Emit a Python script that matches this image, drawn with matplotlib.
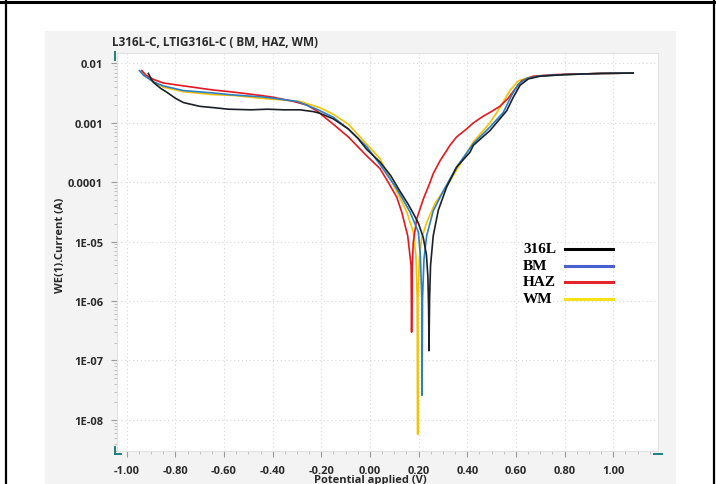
import numpy as np
import matplotlib
matplotlib.use("Agg")
import matplotlib.pyplot as plt
from matplotlib.lines import Line2D
from matplotlib.patches import Rectangle
from matplotlib.ticker import FixedLocator, FuncFormatter, LogLocator, MultipleLocator

plt.rcParams["axes.unicode_minus"] = False

# =========================
# Data (potential in V, current in A)
# =========================
e_316l = [-0.911, -0.90, -0.89, -0.86, -0.836, -0.80, -0.767, -0.70, -0.64, -0.582,
          -0.49, -0.42, -0.356, -0.288, -0.233, -0.206, -0.151, -0.089, -0.05, -0.014,
          0.041, 0.085, 0.123, 0.155, 0.178, 0.200, 0.219, 0.232, 0.238, 0.241,
          0.2425, 0.245, 0.249, 0.26, 0.281, 0.315, 0.356, 0.411, 0.425, 0.493,
          0.534, 0.562, 0.589, 0.617, 0.651, 0.699, 0.80, 0.95, 1.082]
i_316l = [6.8e-3, 5.5e-3, 4.8e-3, 3.8e-3, 3.3e-3, 2.6e-3, 2.2e-3, 1.9e-3, 1.8e-3, 1.7e-3,
          1.66e-3, 1.7e-3, 1.66e-3, 1.66e-3, 1.55e-3, 1.45e-3, 1.17e-3, 7.9e-4, 5.5e-4, 3.6e-4,
          2.2e-4, 1.3e-4, 7.1e-5, 4.4e-5, 3.0e-5, 2.0e-5, 1.17e-5, 6.0e-6, 2.6e-6, 7.4e-7,
          1.46e-7, 1.1e-6, 4.0e-6, 1.26e-5, 3.4e-5, 8.3e-5, 1.8e-4, 3.2e-4, 4.2e-4, 7.4e-4,
          1.17e-3, 1.6e-3, 2.7e-3, 4.3e-3, 5.5e-3, 6.1e-3, 6.5e-3, 6.8e-3, 6.9e-3]

e_bm = [-0.948, -0.93, -0.89, -0.85, -0.767, -0.65, -0.562, -0.45, -0.397, -0.30,
        -0.219, -0.151, -0.089, -0.014, 0.041, 0.11, 0.164, 0.199, 0.207, 0.213,
        0.214, 0.216, 0.222, 0.233, 0.26, 0.301, 0.356, 0.425, 0.493, 0.548,
        0.582, 0.610, 0.644, 0.70, 0.80, 0.95, 1.082]
i_bm = [7.6e-3, 6.3e-3, 4.9e-3, 4.2e-3, 3.5e-3, 3.2e-3, 2.95e-3, 2.75e-3, 2.6e-3, 2.3e-3,
        1.7e-3, 1.25e-3, 7.9e-4, 4.0e-4, 2.0e-4, 7.8e-5, 3.2e-5, 1.45e-5, 5.8e-6, 1.1e-6,
        2.6e-8, 1.1e-6, 5.1e-6, 1.26e-5, 3.3e-5, 7.1e-5, 1.8e-4, 4.5e-4, 8.5e-4, 1.5e-3,
        2.9e-3, 4.5e-3, 5.6e-3, 6.2e-3, 6.5e-3, 6.8e-3, 6.9e-3]

e_haz = [-0.938, -0.92, -0.89, -0.85, -0.767, -0.65, -0.562, -0.45, -0.397, -0.315,
         -0.26, -0.219, -0.151, -0.089, -0.014, 0.041, 0.075, 0.11, 0.13, 0.155,
         0.169, 0.171, 0.174, 0.178, 0.192, 0.219, 0.247, 0.26, 0.288, 0.329,
         0.356, 0.397, 0.425, 0.466, 0.493, 0.534, 0.568, 0.596, 0.623, 0.671,
         0.767, 0.95, 1.082]
i_haz = [7.6e-3, 6.3e-3, 5.4e-3, 4.7e-3, 4.2e-3, 3.6e-3, 3.3e-3, 2.9e-3, 2.7e-3, 2.3e-3,
         2.0e-3, 1.6e-3, 9.5e-4, 5.8e-4, 2.8e-4, 1.7e-4, 1.0e-4, 5.6e-5, 3.2e-5, 1.26e-5,
         4.0e-6, 3.0e-7, 4.0e-6, 9.8e-6, 2.4e-5, 5.2e-5, 1.0e-4, 1.4e-4, 2.3e-4, 4.2e-4,
         5.8e-4, 7.9e-4, 1.0e-3, 1.3e-3, 1.5e-3, 1.9e-3, 2.6e-3, 3.7e-3, 5.1e-3, 6.1e-3,
         6.5e-3, 6.8e-3, 6.9e-3]

e_wm = [-0.94, -0.92, -0.89, -0.85, -0.767, -0.65, -0.562, -0.45, -0.397, -0.288,
        -0.206, -0.151, -0.089, -0.014, 0.041, 0.11, 0.151, 0.178, 0.189, 0.194,
        0.196, 0.197, 0.203, 0.212, 0.233, 0.267, 0.315, 0.37, 0.425, 0.493,
        0.534, 0.575, 0.610, 0.651, 0.70, 0.80, 0.95, 1.082]
i_wm = [7.4e-3, 6.0e-3, 4.9e-3, 4.0e-3, 3.35e-3, 3.0e-3, 2.9e-3, 2.6e-3, 2.5e-3, 2.3e-3,
        1.8e-3, 1.4e-3, 9.5e-4, 4.4e-4, 2.5e-4, 7.1e-5, 3.2e-5, 1.45e-5, 5.8e-6, 1.1e-6,
        5.7e-9, 1.1e-6, 5.1e-6, 1.12e-5, 2.1e-5, 4.4e-5, 8.5e-5, 2.0e-4, 4.8e-4, 1.0e-3,
        1.8e-3, 3.5e-3, 5.1e-3, 5.8e-3, 6.2e-3, 6.5e-3, 6.8e-3, 6.9e-3]

series_names = ["316L", "BM", "HAZ", "WM"]
legend_colors = ["#000000", "#4a5fd0", "#e3242b", "#f7e21a"]

x_ticks = [-1.0, -0.8, -0.6, -0.4, -0.2, 0.0, 0.2, 0.4, 0.6, 0.8, 1.0]
y_ticks = [1e-2, 1e-3, 1e-4, 1e-5, 1e-6, 1e-7, 1e-8]
y_tick_labels = ["0.01", "0.001", "0.0001", "1E-05", "1E-06", "1E-07", "1E-08"]

# =========================
# Figure
# =========================
W, H = 716, 485
fig = plt.figure(figsize=(W / 100, H / 100), dpi=100)
fig.patch.set_facecolor("white")


def fx(px):
    return px / W


def fy(py):
    return 1 - py / H


# light gray panel behind the chart
fig.add_artist(Rectangle((fx(45), 0), fx(676) - fx(45), fy(32), transform=fig.transFigure,
                         facecolor="#f3f3f3", edgecolor="none", zorder=0))

# black frame lines of the table cell
fig.add_artist(Line2D([fx(6), fx(6)], [0, 1], transform=fig.transFigure, color="black", lw=1.6))
fig.add_artist(Line2D([fx(713.5), fx(713.5)], [0, 1], transform=fig.transFigure, color="black", lw=1.6))
fig.add_artist(Line2D([0, 1], [fy(3), fy(3)], transform=fig.transFigure, color="black", lw=2.2))

ax = fig.add_axes([fx(117), fy(452), fx(658) - fx(117), fy(53.5) - fy(452)])
ax.set_facecolor("white")
ax.set_yscale("log")
ax.set_xlim(-1.04, 1.184)
ax.set_ylim(10 ** -8.524, 10 ** -1.815)

ax.plot(e_wm, i_wm, color="#f5c200", lw=1.2, zorder=3)
ax.plot(e_haz, i_haz, color="#e3191f", lw=1.2, zorder=4)
ax.plot(e_bm, i_bm, color="#2b7fc6", lw=1.2, zorder=5)
ax.plot(e_316l, i_316l, color="#1e2028", lw=1.2, zorder=6)

# ticks
ax.xaxis.set_major_locator(FixedLocator(x_ticks))
ax.xaxis.set_minor_locator(MultipleLocator(0.05))
ax.xaxis.set_major_formatter(FuncFormatter(lambda v, p: f"{v:.2f}"))
ax.yaxis.set_major_locator(FixedLocator(y_ticks))
ax.yaxis.set_major_formatter(FuncFormatter(
    lambda v, p: y_tick_labels[y_ticks.index(min(y_ticks, key=lambda t: abs(np.log10(t) - np.log10(v))))]))
ax.yaxis.set_minor_locator(LogLocator(base=10, subs=(2, 3, 4, 5, 6, 7, 8, 9), numticks=20))
ax.yaxis.set_minor_formatter(FuncFormatter(lambda v, p: ""))

ax.tick_params(which="major", length=4, width=0.8, color="#9a9a9a", labelsize=8,
               labelcolor="#2a2a2a", pad=6)
ax.tick_params(which="minor", length=2, width=0.6, color="#b5b5b5")
for lab in ax.get_xticklabels() + ax.get_yticklabels():
    lab.set_fontfamily("Open Sans")
    lab.set_fontweight("bold")

ax.grid(which="major", color="#d9d9d9", linestyle=(0, (1, 2.5)), linewidth=0.8)
ax.set_axisbelow(True)
for s in ax.spines.values():
    s.set_color("#e2e2e2")
    s.set_linewidth(0.8)

# title and axis labels
fig.text(fx(112), fy(43), "L316L-C, LTIG316L-C ( BM, HAZ, WM)", ha="left", va="center",
         fontsize=8.5, fontweight="bold", color="#2a2a2a", family="Open Sans")
fig.text(fx(61), fy(245), "WE(1).Current (A)", ha="center", va="center", rotation=90,
         fontsize=8, fontweight="bold", color="#2a2a2a", family="Open Sans")
fig.text(fx(370), fy(481), "Potential applied (V)", ha="center", va="center",
         fontsize=8, fontweight="bold", color="#2a2a2a", family="Open Sans")

# small teal range handles at the corners
teal = "#1b7f7f"
fig.add_artist(Line2D([fx(115), fx(115)], [fy(53), fy(61)], transform=fig.transFigure, color=teal, lw=1.4))
fig.add_artist(Line2D([fx(115), fx(115)], [fy(448), fy(455)], transform=fig.transFigure, color=teal, lw=1.4))
fig.add_artist(Line2D([fx(115), fx(121)], [fy(455), fy(455)], transform=fig.transFigure, color=teal, lw=1.4))
fig.add_artist(Line2D([fx(654), fx(662)], [fy(455), fy(455)], transform=fig.transFigure, color=teal, lw=1.4))

# hand-made legend
leg_y = [250, 266.5, 283, 299.5]
for name, col, py in zip(series_names, legend_colors, leg_y):
    fig.text(fx(523), fy(py), name, ha="left", va="center", fontsize=11,
             fontweight="bold", family="Liberation Serif", color="black")
    fig.add_artist(Line2D([fx(565), fx(613)], [fy(py), fy(py)], transform=fig.transFigure,
                          color=col, lw=2.2))

plt.savefig("out.png", dpi=100)
